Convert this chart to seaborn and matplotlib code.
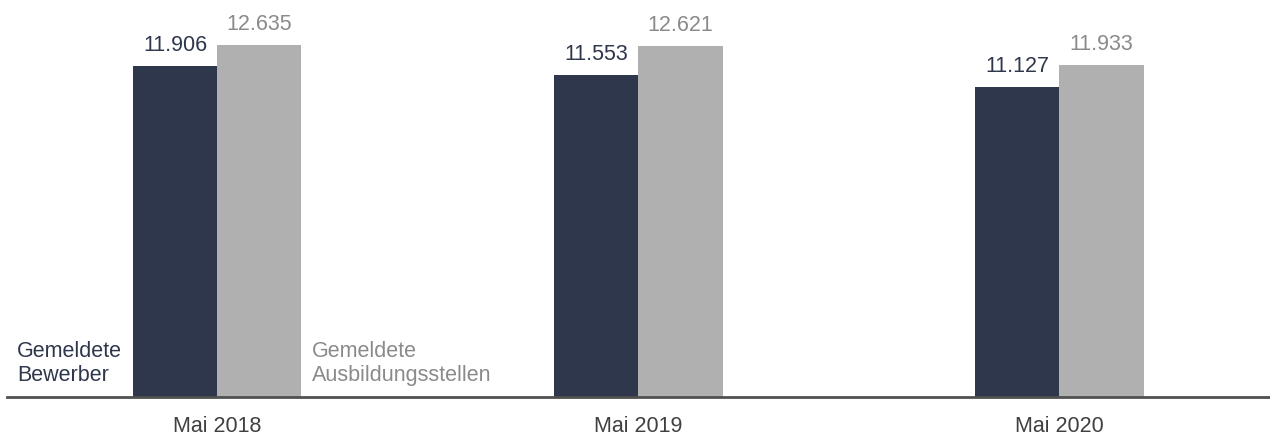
import pandas as pd
import seaborn as sns
import matplotlib.pyplot as plt

months = ['Mai 2018', 'Mai 2019', 'Mai 2020']
series = ['Gemeldete Bewerber', 'Gemeldete Ausbildungsstellen']
bewerber = [11906, 11553, 11127]
stellen = [12635, 12621, 11933]
value_labels_bew = ['11.906', '11.553', '11.127']
value_labels_st = ['12.635', '12.621', '11.933']

dark = '#2f374c'
gray = '#b0b0b0'

df = pd.DataFrame({
    'month': months * 2,
    'series': [series[0]] * 3 + [series[1]] * 3,
    'value': bewerber + stellen,
})

sns.set_style('white')
plt.rcParams['font.family'] = ['Liberation Sans', 'DejaVu Sans']

fig = plt.figure(figsize=(12.7, 4.35), dpi=100)
ax = fig.add_axes([0.0053, 0.085, 0.9947, 0.915])

sns.barplot(data=df, x='month', y='value', hue='series', order=months,
            hue_order=series, palette=[dark, gray], width=0.4, gap=0,
            linewidth=0, saturation=1, legend=False, ax=ax)

ax.set_xlim(-0.5, 2.5)
ax.set_ylim(0, 14300)

# value labels above bars
labels = [value_labels_bew, value_labels_st]
text_cols = [dark, '#8a8a8a']
for cont, labs, col in zip(ax.containers, labels, text_cols):
    ax.bar_label(cont, labels=labs, padding=8, fontsize=15.5, color=col)

# series names drawn inside the plot next to first group
ax.text(-0.476, 440, 'Gemeldete\nBewerber', fontsize=15.5, color=dark,
        ha='left', va='bottom', linespacing=1.18)
ax.text(0.224, 440, 'Gemeldete\nAusbildungsstellen', fontsize=15.5,
        color='#8a8a8a', ha='left', va='bottom', linespacing=1.18)

for s in ['top', 'right', 'left']:
    ax.spines[s].set_visible(False)
ax.spines['bottom'].set_color('#505050')
ax.spines['bottom'].set_linewidth(2)
ax.set_yticks([])
ax.set_xlabel('')
ax.set_ylabel('')
ax.tick_params(axis='x', length=0, pad=13, labelsize=15.5, labelcolor='#404040')

fig.savefig('out.png', dpi=100)
